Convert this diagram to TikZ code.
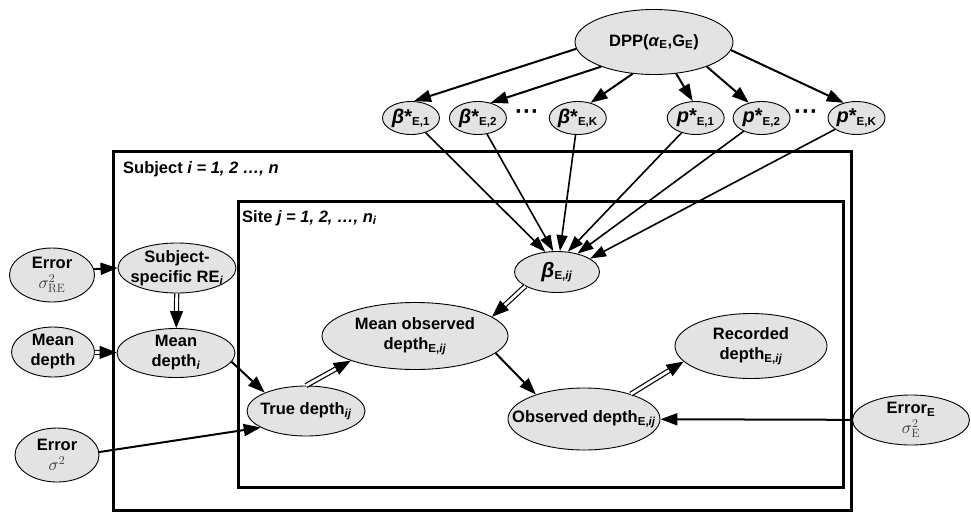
\documentclass[tikz,border=0pt]{standalone}
\usepackage[no-math]{fontspec}
\setmainfont{Liberation Sans}
\usetikzlibrary{shapes.geometric, arrows.meta, positioning}
\definecolor{nodegray}{gray}{0.89}
\newcommand{\sbs}[1]{\textsubscript{#1}}
\newcommand{\sig}[1]{\textcolor{black!80}{$\sigma^{2}_{\mathrm{#1}}$}}
\newcommand{\bstar}[2]{{\fontsize{20}{20}\selectfont\textit{#1}*}\sbs{#2}}

\begin{document}
\begin{tikzpicture}[x=1pt, y=-1pt,
    font=\bfseries\fontsize{16.5}{20}\selectfont,
    var/.style={ellipse, draw, line width=0.9pt, fill=nodegray, align=center, inner xsep=-30pt, inner ysep=-15pt},
    sz/.style 2 args={minimum width=#1pt, minimum height=#2pt},
    plate/.style={line width=3pt},
    arr/.style={-{Triangle[length=17pt,width=12pt]}, line width=2pt},
    thinarr/.style={-{Triangle[length=16pt,width=11pt]}, line width=1.6pt},
    dbl/.style={double, double distance=2.8pt, line width=1.2pt, -{Triangle[length=17pt,width=13pt]}}]

    \useasboundingbox (0,0) rectangle (971,512);

    % Plates
    \draw[plate] (113,151) rectangle (851,510);
    \draw[plate] (238,201) rectangle (843,487);
    \node[anchor=base west, inner sep=0pt] (subjlab) at (123,173) {Subject \textit{i = 1, 2 …, n}};
    \node[anchor=base west, inner sep=0pt] (sitelab) at (242,222) {Site \textit{j = 1, 2, …, n}\sbs{\textit{i}}};

    % Nodes
    \node[var, sz={158}{65}] (dpp) at (654,42) {DPP(\textit{α}\sbs{E},G\sbs{E})};
    \node[var, sz={57}{33}] (bs1) at (411,118) {\bstar{β}{E,1}};
    \node[var, sz={57}{33}, right=9pt of bs1] (bs2) {\bstar{β}{E,2}};
    \node[var, sz={57}{33}, right=42pt of bs2] (bsK) {\bstar{β}{E,K}};
    \node[var, sz={57}{33}, right=60pt of bsK] (ps1) {\bstar{p}{E,1}};
    \node[var, sz={57}{33}, right=8pt of ps1] (ps2) {\bstar{p}{E,2}};
    \node[var, sz={57}{33}, right=37pt of ps2] (psK) {\bstar{p}{E,K}};
    \node (dots1) at (527,115) {\fontsize{24}{24}\selectfont ···};
    \node (dots2) at (806,115) {\fontsize{24}{24}\selectfont ···};

    \node[var, sz={85}{54}] (errre) at (52,275) {Error\\\sig{RE}};
    \node[var, sz={118}{50}] (subre) at (177,268) {Subject-\\specific RE\sbs{\textit{i}}};
    \node[var, sz={83}{50}] (md) at (53,352) {Mean\\depth};
    \node[var, sz={118}{49}] (mdi) at (176,353) {Mean\\depth\sbs{\textit{i}}};
    \node[var, sz={84}{54}] (err) at (57,455) {Error\\\textcolor{black!80}{$\sigma^{2}$}};
    \node[var, sz={118}{50}] (true) at (306,411) {True depth\sbs{\textit{ij}}};
    \node[var, sz={186}{67}] (mobs) at (415,336) {Mean observed\\depth\sbs{E,\textit{ij}}};
    \node[var, sz={85}{41}] (bij) at (557,272) {{\fontsize{21}{21}\selectfont\textit{β}}\sbs{E,\textit{ij}}};
    \node[var, sz={152}{62}] (obs) at (584,419) {Observed depth\sbs{E,\textit{ij}}};
    \node[var, sz={152}{65}] (rec) at (751,346) {Recorded\\depth\sbs{E,\textit{ij}}};
    \node[var, sz={117}{50}] (erre) at (911,420) {Error\sbs{E}\\\sig{E}};

    % Arrows
    \draw[arr] (dpp.185) -- (bs1.80);
    \draw[arr] (dpp.205) -- (bs2.50);
    \draw[arr] (dpp.236) -- (bsK.50);
    \draw[arr] (dpp.305) -- (ps1.100);
    \draw[arr] (dpp.335) -- (ps2.130);
    \draw[arr] (dpp.354) -- (psK.130);
    \foreach \n/\a in {bs1/120, bs2/100, bsK/82, ps1/62, ps2/42, psK/22}
        \draw[thinarr] (\n) -- (bij.\a);

    \draw[arr] (errre.8) -- (subre.west);
    \draw[dbl] (subre) -- (mdi);
    \draw[dbl] (md) -- (mdi);
    \draw[arr] (mdi.351) -- (true.156);
    \draw[arr] (err.4) -- (true.200);
    \draw[dbl] (true.90) -- (mobs.201);
    \draw[dbl] (bij.204) -- (mobs.14);
    \draw[arr] (mobs.348) -- (obs.153);
    \draw[dbl] (obs.28) -- (rec.193);
    \draw[arr] (erre) -- (obs);
\end{tikzpicture}
\end{document}
